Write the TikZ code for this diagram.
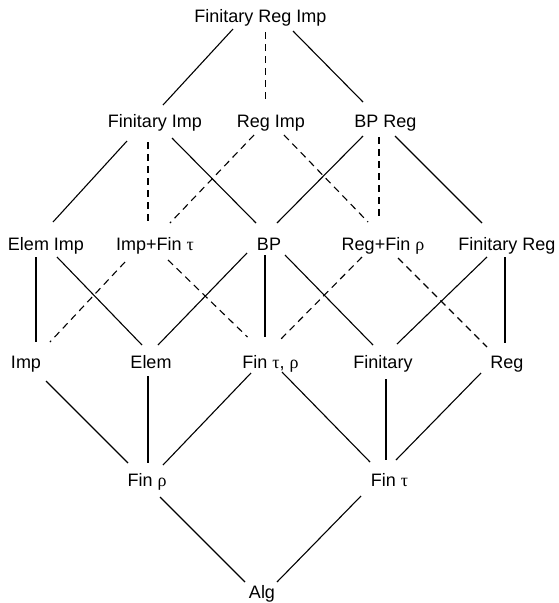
\documentclass[tikz,border=0pt]{standalone}
\usepackage{fontspec}
\setmainfont{Liberation Sans}
\newfontfamily\grk{Liberation Serif}
\begin{document}
\begin{tikzpicture}[x=1pt,y=-1pt,
  lbl/.style={anchor=base,inner sep=0pt,font=\fontsize{18}{20}\selectfont},
  ln/.style={line width=1.1pt,line cap=butt},
  dl/.style={ln,dash pattern=on 7pt off 5pt}]
\useasboundingbox (0,0) rectangle (559,603);
\node[lbl] (fri) at (260.5,22) {Finitary Reg Imp};
\node[lbl] (fimp) at (155,127) {Finitary Imp};
\node[lbl] (rimp) at (271,127) {Reg Imp};
\node[lbl] (bpr) at (385.5,127) {BP Reg};
\node[lbl] (eimp) at (46,250) {Elem Imp};
\node[lbl] (ift) at (155,250) {Imp+Fin {\grk τ}};
\node[lbl] (bp) at (269,250) {BP};
\node[lbl] (rfr) at (383,250) {Reg+Fin {\grk ρ}};
\node[lbl] (freg) at (507,250) {Finitary Reg};
\node[lbl] (imp) at (26,368) {Imp};
\node[lbl] (elem) at (151,368) {Elem};
\node[lbl] (ftr) at (270.5,368) {Fin {\grk τ}, {\grk ρ}};
\node[lbl] (fin) at (383,368) {Finitary};
\node[lbl] (reg) at (507,368) {Reg};
\node[lbl] (fr) at (147,486) {Fin {\grk ρ}};
\node[lbl] (ft) at (389.5,486) {Fin {\grk τ}};
\node[lbl] (alg) at (262,598.5) {Alg};
% row 1 -> row 2
\draw[ln] ([shift={(-27.5,7)}]fri.base) -- ([shift={(8,-22)}]fimp.base);
\draw[dl] ([shift={(5,10)}]fri.base) -- ([shift={(-5.5,-27)}]rimp.base);
\draw[ln] ([shift={(32.5,9)}]fri.base) -- ([shift={(-22.5,-25)}]bpr.base);
% row 2 -> row 3
\draw[ln] ([shift={(-28,14)}]fimp.base) -- ([shift={(7,-28)}]eimp.base);
\draw[dl] ([shift={(-7,15)}]fimp.base) -- ([shift={(-7,-27)}]ift.base);
\draw[ln] ([shift={(17,11)}]fimp.base) -- ([shift={(-13,-27)}]bp.base);
\draw[dl] ([shift={(-17,8)}]rimp.base) -- ([shift={(15,-27)}]ift.base);
\draw[dl] ([shift={(13,8)}]rimp.base) -- ([shift={(-15,-28)}]rfr.base);
\draw[ln] ([shift={(-22.5,9)}]bpr.base) -- ([shift={(8,-27)}]bp.base);
\draw[dl] ([shift={(-6.5,10)}]bpr.base) -- ([shift={(-4,-31)}]rfr.base);
\draw[ln] ([shift={(9.5,9)}]bpr.base) -- ([shift={(-25,-27)}]freg.base);
% row 3 -> row 4
\draw[ln] ([shift={(-10,7)}]eimp.base) -- ([shift={(10,-26)}]imp.base);
\draw[ln] ([shift={(11,7)}]eimp.base) -- ([shift={(-9,-23)}]elem.base);
\draw[dl] ([shift={(-30,12)}]ift.base) -- ([shift={(24,-26)}]imp.base);
\draw[dl] ([shift={(13,10)}]ift.base) -- ([shift={(-23,-31)}]ftr.base);
\draw[ln] ([shift={(-22,3)}]bp.base) -- ([shift={(7,-23)}]elem.base);
\draw[ln] ([shift={(-4,5)}]bp.base) -- ([shift={(-5.5,-31)}]ftr.base);
\draw[ln] ([shift={(16,5)}]bp.base) -- ([shift={(-10,-23)}]fin.base);
\draw[dl] ([shift={(-21,7)}]rfr.base) -- ([shift={(9.5,-28)}]ftr.base);
\draw[dl] ([shift={(15,8)}]rfr.base) -- ([shift={(-20,-21)}]reg.base);
\draw[ln] ([shift={(-20,7)}]freg.base) -- ([shift={(14,-24)}]fin.base);
\draw[ln] ([shift={(-2,7)}]freg.base) -- ([shift={(-2,-25)}]reg.base);
% row 4 -> row 5
\draw[ln] ([shift={(20,13)}]imp.base) -- ([shift={(-19,-23)}]fr.base);
\draw[ln] ([shift={(-3,8)}]elem.base) -- ([shift={(1,-23)}]fr.base);
\draw[ln] ([shift={(-19.5,5)}]ftr.base) -- ([shift={(16,-21)}]fr.base);
\draw[ln] ([shift={(11.5,4)}]ftr.base) -- ([shift={(-19.5,-24)}]ft.base);
\draw[ln] ([shift={(3,11)}]fin.base) -- ([shift={(-3.5,-26)}]ft.base);
\draw[ln] ([shift={(-26,5)}]reg.base) -- ([shift={(6.5,-26)}]ft.base);
% row 5 -> row 6
\draw[ln] ([shift={(13,11)}]fr.base) -- ([shift={(-17,-16.5)}]alg.base);
\draw[ln] ([shift={(-28.5,10)}]ft.base) -- ([shift={(15,-16.5)}]alg.base);
\end{tikzpicture}
\end{document}
